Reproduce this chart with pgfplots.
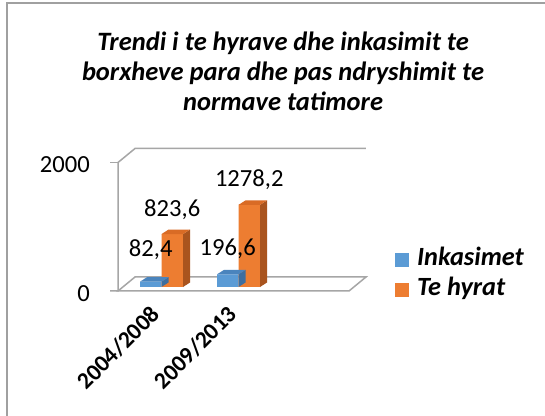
\documentclass[border=0pt]{standalone}
\usepackage{fontspec}
\setmainfont{Carlito}
\usepackage{pgfplots}
\usepackage{pgfplotstable}
\pgfplotsset{compat=1.18}
\definecolor{blueF}{HTML}{5B9BD5}
\definecolor{blueT}{HTML}{4A84BD}
\definecolor{blueS}{HTML}{3E6E9E}
\definecolor{oraF}{HTML}{ED7D31}
\definecolor{oraT}{HTML}{D96B25}
\definecolor{oraS}{HTML}{A9541E}
\definecolor{frame}{HTML}{A6A6A6}
\definecolor{border}{HTML}{A0A0A0}

\pgfplotstableread{
x y lbl dy
0.5 82.4 82,4 25
1.5 196.6 196,6 19
}\inkdata
\pgfplotstableread{
x y lbl dy
0.5 823.6 823,6 18
1.5 1278.2 1278,2 18
}\hyrdata

\pgfdeclareplotmark{capblue}{%
  \pgfmathsetmacro\hh{\rawy*0.06425}%
  \pgfsetfillcolor{blueS}%
  \pgfpathmoveto{\pgfpoint{0bp}{0bp}}%
  \pgfpathlineto{\pgfpoint{7bp}{4.5bp}}%
  \pgfpathlineto{\pgfpoint{7bp}{4.5bp-\hh bp}}%
  \pgfpathlineto{\pgfpoint{0bp}{-\hh bp}}%
  \pgfpathclose\pgfusepath{fill}%
  \pgfsetfillcolor{blueT}%
  \pgfpathmoveto{\pgfpoint{-21.5bp}{0bp}}%
  \pgfpathlineto{\pgfpoint{0bp}{0bp}}%
  \pgfpathlineto{\pgfpoint{7bp}{4.5bp}}%
  \pgfpathlineto{\pgfpoint{-14.5bp}{4.5bp}}%
  \pgfpathclose\pgfusepath{fill}%
}
\pgfdeclareplotmark{caporange}{%
  \pgfmathsetmacro\hh{\rawy*0.06425}%
  \pgfsetfillcolor{oraS}%
  \pgfpathmoveto{\pgfpoint{21.5bp}{0bp}}%
  \pgfpathlineto{\pgfpoint{28.5bp}{4.5bp}}%
  \pgfpathlineto{\pgfpoint{28.5bp}{4.5bp-\hh bp}}%
  \pgfpathlineto{\pgfpoint{21.5bp}{-\hh bp}}%
  \pgfpathclose\pgfusepath{fill}%
  \pgfsetfillcolor{oraT}%
  \pgfpathmoveto{\pgfpoint{0bp}{0bp}}%
  \pgfpathlineto{\pgfpoint{21.5bp}{0bp}}%
  \pgfpathlineto{\pgfpoint{28.5bp}{4.5bp}}%
  \pgfpathlineto{\pgfpoint{7bp}{4.5bp}}%
  \pgfpathclose\pgfusepath{fill}%
}

\begin{document}
\begin{tikzpicture}[font=\fontsize{24.6bp}{30bp}\selectfont]
\path[use as bounding box] (0,0) rectangle (545bp,416bp);
\fill[white] (0,0) rectangle (545bp,416bp);
\draw[border, line width=2bp] (6.5bp,0) -- (6.5bp,412.5bp) -- (545bp,412.5bp);
\begin{axis}[
  at={(123bp,129bp)}, anchor=south west,
  scale only axis, width=231bp, height=128.5bp,
  xmin=0, xmax=3, ymin=0, ymax=2000,
  clip=false,
  axis line style={draw=none},
  major tick style={draw=none},
  xtick={0.5,1.5},
  xticklabels={2004/2008,2009/2013},
  ytick={0,2000},
  yticklabels={0,2000},
  scaled y ticks=false,
  xticklabel style={xshift=-12bp, yshift=-17bp, rotate=45, anchor=north east, inner sep=0pt, font=\fontsize{23.5bp}{27bp}\selectfont\bfseries},
  yticklabel style={anchor=east, inner sep=0pt, xshift=-33bp, yshift=-6.5bp, font=\fontsize{24.6bp}{30bp}\selectfont},
  title={Trendi i te hyrave dhe inkasimit te\\borxheve para dhe pas ndryshimit te\\normave tatimore},
  title style={at={(axis description cs:0.693,1.938)}, anchor=north, align=center, inner sep=0pt,
    font=\fontsize{26.5bp}{30bp}\selectfont\bfseries\itshape},
  legend style={at={(axis description cs:1.1775,0.0895)}, anchor=west, draw=none, fill=none,
    inner sep=0pt, row sep=5bp, column sep=6bp, font=\fontsize{26.3bp}{30bp}\selectfont\bfseries\itshape,
    nodes={inner sep=2bp, text height=16bp, text depth=5bp}},
  legend cell align=left,
]
% walls and floor
\draw[frame, line width=1.5bp]
  ([xshift=-5bp,yshift=-4bp]axis cs:0,0) -- ([xshift=12bp,yshift=10bp]axis cs:0,0)
  -- ([xshift=12bp,yshift=10bp]axis cs:3,0) -- ([xshift=-5bp,yshift=-4bp]axis cs:3,0) -- cycle;
\draw[frame, line width=1.5bp]
  ([xshift=-13bp,yshift=-4bp]axis cs:0,0) -- ([xshift=-5bp,yshift=-4bp]axis cs:0,0)
  -- ([xshift=-5bp,yshift=-4bp]axis cs:0,2000) -- ([xshift=12bp,yshift=10bp]axis cs:0,2000)
  -- ([xshift=12bp,yshift=10bp]axis cs:3,2000);
\draw[frame, line width=1.5bp]
  ([xshift=-13bp,yshift=-4bp]axis cs:0,2000) -- ([xshift=-5bp,yshift=-4bp]axis cs:0,2000);

\addplot[ybar, bar width=21.5bp, bar shift=-10.75bp, fill=blueF, draw=none,
  legend image code/.code={\fill[blueF] (0bp,-7bp) rectangle (14bp,7bp);}]
  table[x=x,y=y] {\inkdata};
\addlegendentry{Inkasimet}
\addplot[only marks, mark=capblue, visualization depends on={rawy \as \rawy}, forget plot]
  table[x=x,y=y] {\inkdata};
\addplot[ybar, bar width=21.5bp, bar shift=10.75bp, fill=oraF, draw=none,
  legend image code/.code={\fill[oraF] (0bp,-7bp) rectangle (14bp,7bp);}]
  table[x=x,y=y] {\hyrdata};
\addlegendentry{Te hyrat}
\addplot[only marks, mark=caporange, visualization depends on={rawy \as \rawy}, forget plot]
  table[x=x,y=y] {\hyrdata};
% data labels
\addplot[only marks, mark=*, mark size=0pt, mark options={draw=none,fill=none}, forget plot,
  point meta=explicit symbolic, nodes near coords,
  visualization depends on={\thisrow{dy} \as \dy},
  every node near coord/.style={anchor=base, inner sep=0pt, xshift=-10.75bp, yshift=\dy bp,
    font=\fontsize{24.6bp}{30bp}\selectfont}]
  table[x=x,y=y,meta=lbl] {\inkdata};
\addplot[only marks, mark=*, mark size=0pt, mark options={draw=none,fill=none}, forget plot,
  point meta=explicit symbolic, nodes near coords,
  visualization depends on={\thisrow{dy} \as \dy},
  every node near coord/.style={anchor=base, inner sep=0pt, xshift=10.75bp, yshift=\dy bp,
    font=\fontsize{24.6bp}{30bp}\selectfont}]
  table[x=x,y=y,meta=lbl] {\hyrdata};
\end{axis}
\end{tikzpicture}
\end{document}
